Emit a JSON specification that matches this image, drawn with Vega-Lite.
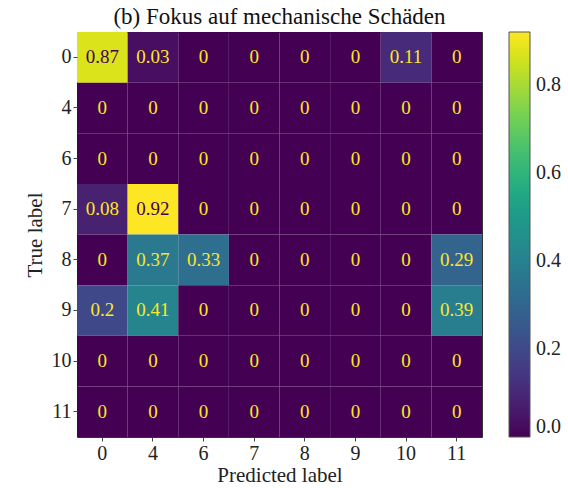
{
  "$schema": "https://vega.github.io/schema/vega-lite/v6.json",
  "width": 405,
  "height": 405,
  "autosize": {"type": "none"},
  "padding": {"left": 77, "top": 32, "right": 86, "bottom": 51},
  "background": "white",
  "config": {
    "font": "Liberation Serif",
    "view": {"stroke": "#333333", "strokeWidth": 1},
    "axis": {"labelFont": "Liberation Serif", "titleFont": "Liberation Serif", "labelFontSize": 20, "titleFontSize": 21, "titleFontWeight": "normal", "labelColor": "#222222", "titleColor": "#222222", "tickColor": "#444444", "tickSize": 4, "labelPadding": 2, "domain": false, "grid": false, "labelAngle": 0},
    "legend": {"labelFont": "Liberation Serif", "labelFontSize": 20, "labelColor": "#222222"}
  },
  "title": {"text": "(b) Fokus auf mechanische Schäden", "font": "Liberation Serif", "fontSize": 23, "fontWeight": "normal", "color": "#111111", "offset": 3, "anchor": "middle"},
  "data": {"values": [
    {"t": "0", "p": "0", "v": 0.87, "l": "0.87"}, {"t": "0", "p": "4", "v": 0.03, "l": "0.03"}, {"t": "0", "p": "6", "v": 0, "l": "0"}, {"t": "0", "p": "7", "v": 0, "l": "0"}, {"t": "0", "p": "8", "v": 0, "l": "0"}, {"t": "0", "p": "9", "v": 0, "l": "0"}, {"t": "0", "p": "10", "v": 0.11, "l": "0.11"}, {"t": "0", "p": "11", "v": 0, "l": "0"},
    {"t": "4", "p": "0", "v": 0, "l": "0"}, {"t": "4", "p": "4", "v": 0, "l": "0"}, {"t": "4", "p": "6", "v": 0, "l": "0"}, {"t": "4", "p": "7", "v": 0, "l": "0"}, {"t": "4", "p": "8", "v": 0, "l": "0"}, {"t": "4", "p": "9", "v": 0, "l": "0"}, {"t": "4", "p": "10", "v": 0, "l": "0"}, {"t": "4", "p": "11", "v": 0, "l": "0"},
    {"t": "6", "p": "0", "v": 0, "l": "0"}, {"t": "6", "p": "4", "v": 0, "l": "0"}, {"t": "6", "p": "6", "v": 0, "l": "0"}, {"t": "6", "p": "7", "v": 0, "l": "0"}, {"t": "6", "p": "8", "v": 0, "l": "0"}, {"t": "6", "p": "9", "v": 0, "l": "0"}, {"t": "6", "p": "10", "v": 0, "l": "0"}, {"t": "6", "p": "11", "v": 0, "l": "0"},
    {"t": "7", "p": "0", "v": 0.08, "l": "0.08"}, {"t": "7", "p": "4", "v": 0.92, "l": "0.92"}, {"t": "7", "p": "6", "v": 0, "l": "0"}, {"t": "7", "p": "7", "v": 0, "l": "0"}, {"t": "7", "p": "8", "v": 0, "l": "0"}, {"t": "7", "p": "9", "v": 0, "l": "0"}, {"t": "7", "p": "10", "v": 0, "l": "0"}, {"t": "7", "p": "11", "v": 0, "l": "0"},
    {"t": "8", "p": "0", "v": 0, "l": "0"}, {"t": "8", "p": "4", "v": 0.37, "l": "0.37"}, {"t": "8", "p": "6", "v": 0.33, "l": "0.33"}, {"t": "8", "p": "7", "v": 0, "l": "0"}, {"t": "8", "p": "8", "v": 0, "l": "0"}, {"t": "8", "p": "9", "v": 0, "l": "0"}, {"t": "8", "p": "10", "v": 0, "l": "0"}, {"t": "8", "p": "11", "v": 0.29, "l": "0.29"},
    {"t": "9", "p": "0", "v": 0.2, "l": "0.2"}, {"t": "9", "p": "4", "v": 0.41, "l": "0.41"}, {"t": "9", "p": "6", "v": 0, "l": "0"}, {"t": "9", "p": "7", "v": 0, "l": "0"}, {"t": "9", "p": "8", "v": 0, "l": "0"}, {"t": "9", "p": "9", "v": 0, "l": "0"}, {"t": "9", "p": "10", "v": 0, "l": "0"}, {"t": "9", "p": "11", "v": 0.39, "l": "0.39"},
    {"t": "10", "p": "0", "v": 0, "l": "0"}, {"t": "10", "p": "4", "v": 0, "l": "0"}, {"t": "10", "p": "6", "v": 0, "l": "0"}, {"t": "10", "p": "7", "v": 0, "l": "0"}, {"t": "10", "p": "8", "v": 0, "l": "0"}, {"t": "10", "p": "9", "v": 0, "l": "0"}, {"t": "10", "p": "10", "v": 0, "l": "0"}, {"t": "10", "p": "11", "v": 0, "l": "0"},
    {"t": "11", "p": "0", "v": 0, "l": "0"}, {"t": "11", "p": "4", "v": 0, "l": "0"}, {"t": "11", "p": "6", "v": 0, "l": "0"}, {"t": "11", "p": "7", "v": 0, "l": "0"}, {"t": "11", "p": "8", "v": 0, "l": "0"}, {"t": "11", "p": "9", "v": 0, "l": "0"}, {"t": "11", "p": "10", "v": 0, "l": "0"}, {"t": "11", "p": "11", "v": 0, "l": "0"}
  ]},
  "encoding": {
    "x": {"field": "p", "type": "ordinal", "sort": ["0", "4", "6", "7", "8", "9", "10", "11"], "title": "Predicted label", "scale": {"paddingInner": 0, "paddingOuter": 0}, "axis": {"titlePadding": 1}},
    "y": {"field": "t", "type": "ordinal", "sort": ["0", "4", "6", "7", "8", "9", "10", "11"], "title": "True label", "scale": {"paddingInner": 0, "paddingOuter": 0}, "axis": {"titlePadding": 6}}
  },
  "layer": [
    {
      "mark": {"type": "rect"},
      "encoding": {
        "color": {"field": "v", "type": "quantitative", "title": null, "scale": {"scheme": "viridis", "domain": [0, 0.92]},
          "legend": {"type": "gradient", "orient": "right", "offset": 27, "gradientLength": 405, "gradientThickness": 21, "values": [0, 0.2, 0.4, 0.6, 0.8], "format": ".1f", "gradientStrokeColor": "#555555", "gradientStrokeWidth": 1, "labelOffset": 6, "direction": "vertical"}}
      }
    },
    {
      "mark": {"type": "text", "fontSize": 19, "font": "Liberation Serif"},
      "encoding": {
        "text": {"field": "l"},
        "color": {"condition": {"test": "datum.v > 0.46", "value": "#440154"}, "value": "#fde725"}
      }
    }
  ]
}
